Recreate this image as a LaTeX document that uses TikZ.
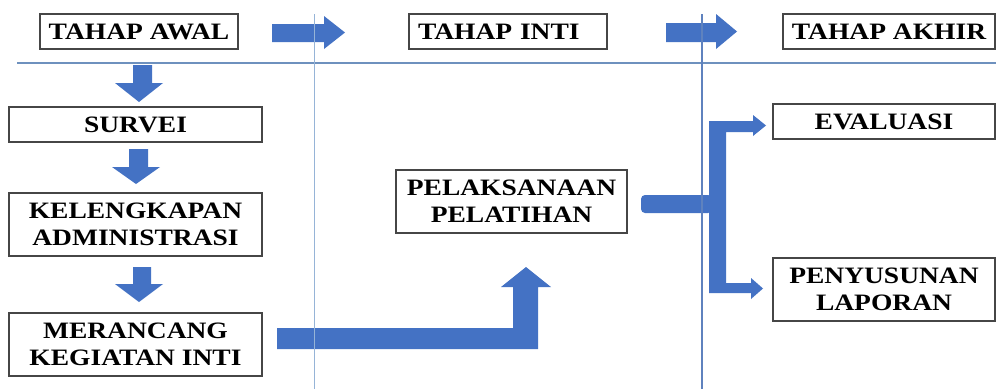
\documentclass[tikz,border=0pt]{standalone}
\usepackage{fontspec}
\newfontfamily\boxfont{Liberation Serif}[FakeStretch=1.17]
\definecolor{arrowblue}{RGB}{68,114,196}
\definecolor{boxgray}{RGB}{70,70,70}
\definecolor{lineA}{RGB}{150,180,215}
\definecolor{lineB}{RGB}{95,130,190}
\definecolor{lineH}{RGB}{110,145,190}
\tikzset{
  stagebox/.style={draw=boxgray, line width=1.3pt, fill=white, inner sep=0pt, align=center,
    font=\boxfont\bfseries\fontsize{23.5}{27}\selectfont},
  blockarrow/.style={fill=arrowblue},
  guide/.style={line width=1.1pt}
}
\begin{document}
\begin{tikzpicture}[x=1pt,y=-1pt]
\useasboundingbox (0,0) rectangle (996,389);
\fill[white] (0,0) rectangle (996,389);

% stage header boxes
\node[stagebox, minimum width=198pt, minimum height=35pt] (awal) at (139,31.5) {\raisebox{-1pt}{TAHAP AWAL}};
\node[stagebox, minimum width=198pt, minimum height=35pt, text width=180pt, align=left] (inti) at (508,31.5) {\raisebox{-1pt}{TAHAP INTI}};
\node[stagebox, minimum width=212pt, minimum height=35pt] (akhir) at (889,31.5) {\raisebox{-1pt}{TAHAP AKHIR}};

% left column
\node[stagebox, minimum width=253pt, minimum height=35pt] (survei) at (135.5,124.5) {\raisebox{-1pt}{SURVEI}};
\node[stagebox, minimum width=253pt, minimum height=63pt] (keleng) at (135.5,224.5) {KELENGKAPAN\\ADMINISTRASI};
\node[stagebox, minimum width=253pt, minimum height=63pt] (meran) at (135.5,344.5) {MERANCANG\\KEGIATAN INTI};

% middle
\node[stagebox, minimum width=231pt, minimum height=63pt] (pelak) at (511.5,201.5) {PELAKSANAAN\\PELATIHAN};

% right
\node[stagebox, minimum width=222pt, minimum height=35pt] (evalu) at (884,121.5) {\raisebox{-1pt}{EVALUASI}};
\node[stagebox, minimum width=222pt, minimum height=63pt] (penyu) at (884,289.5) {PENYUSUNAN\\LAPORAN};

% header arrows
\fill[blockarrow] (272,24) -- (324,24) -- (324,16) -- (345,32.5) -- (324,49) -- (324,42) -- (272,42) -- cycle;
\fill[blockarrow] (666,23) -- (716,23) -- (716,14) -- (737,31.5) -- (716,49) -- (716,42) -- (666,42) -- cycle;

% down arrows
\fill[blockarrow] (133,65) -- (152,65) -- (152,83) -- (163,83) -- (139,102) -- (115,83) -- (133,83) -- cycle;
\fill[blockarrow] (129,149) -- (148,149) -- (148,167) -- (160,167) -- (136,184) -- (112,167) -- (129,167) -- cycle;
\fill[blockarrow] (133,267) -- (151,267) -- (151,284) -- (163,284) -- (139,302) -- (115,284) -- (133,284) -- cycle;

% bent arrow to pelaksanaan
\fill[blockarrow] (277,328) -- (513,328) -- (513,287) -- (501,287) -- (526,267) -- (551,287) -- (538,287) -- (538,349) -- (277,349) -- cycle;

% bracket arrow to evaluasi / penyusunan
\fill[blockarrow, rounded corners=4pt] (641,195) -- (712,195) -- (712,213) -- (641,213) -- cycle;
\fill[blockarrow] (709,121) -- (753,121) -- (753,115) -- (766,125.5) -- (753,136) -- (753,132) -- (726,132)
  -- (726,283) -- (751,283) -- (751,278) -- (763,288.5) -- (751,299) -- (751,293) -- (709,293) -- cycle;

% guide lines
\draw[guide, draw=lineH] (17,63) -- (996,63);
\draw[guide, draw=lineA] (314.5,14) -- (314.5,389);
\draw[guide, draw=lineB] (702,14) -- (702,389);
\end{tikzpicture}
\end{document}
